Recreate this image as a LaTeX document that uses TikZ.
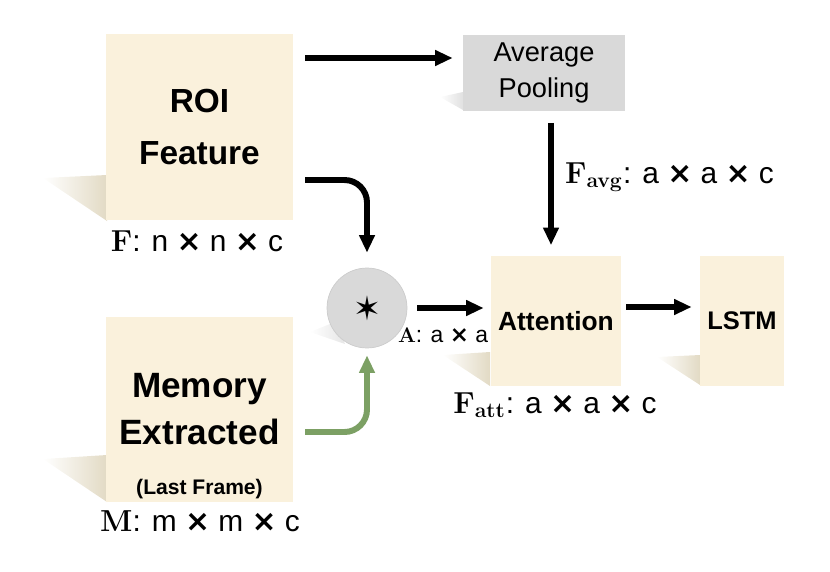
\documentclass[tikz,border=0pt]{standalone}
\usepackage[no-math]{fontspec}
\setmainfont{Liberation Sans}
\newfontfamily\symfont{DejaVu Sans}
\usetikzlibrary{arrows.meta,calc}

\definecolor{boxtan}{RGB}{250,241,220}
\definecolor{shadowtan}{RGB}{226,218,196}
\definecolor{poolgray}{RGB}{217,217,217}
\definecolor{memgreen}{RGB}{124,160,100}

\newcommand{\tms}{{\symfont\bfseries ×}}

\begin{document}
\begin{tikzpicture}[
    x=0.02cm, y=-0.02cm,
    arr/.style={-{Triangle[length=10pt, width=8.5pt]}, line width=3.4pt, draw=black},
    garr/.style={arr, draw=memgreen},
    featbox/.style={draw=none, fill=boxtan, minimum width=3.74cm,
        minimum height=3.72cm, align=center, font=\bfseries\fontsize{19}{29.5}\selectfont},
    poolbox/.style={draw=none, fill=poolgray, minimum width=3.24cm,
        minimum height=1.54cm, align=center, font=\fontsize{15.5}{21}\selectfont},
    smallbox/.style={draw=none, fill=boxtan, minimum height=2.62cm,
        align=center, font=\bfseries\fontsize{15}{18}\selectfont},
    opcircle/.style={circle, draw=black!20, fill=poolgray, minimum size=1.6cm},
    dimlabel/.style={font=\fontsize{17}{20}\selectfont, inner sep=1pt},
    shadowfill/.style={left color=white, right color=shadowtan}
]
\useasboundingbox (0,0) rectangle (830,571);

%------------------------------------------------
% stiny
%------------------------------------------------
\shade[shadowfill] (107,175) -- (43,178) -- (107,221) -- cycle;
\shade[shadowfill] (107,455) -- (43,459) -- (107,502) -- cycle;
\shade[shadowfill] (490,352) -- (443,355) -- (490,386) -- cycle;
\shade[shadowfill] (700,355) -- (657,357) -- (700,385) -- cycle;
\shade[left color=white, right color=black!12] (463,92) -- (440,97) -- (463,110) -- cycle;
\shade[left color=white, right color=black!10] (335,322) -- (310,332) -- (345,344) -- cycle;

%------------------------------------------------
% bloky
%------------------------------------------------
\node[featbox] (roi) at (199.5,127) {ROI\\Feature};

\node[featbox] (mem) at (199.5,409.5) {};
\node[font=\bfseries\fontsize{20}{27}\selectfont, align=center] (memtext)
    at (199.5,409) {Memory\\Extracted};
\node[font=\bfseries\fontsize{12}{14}\selectfont] (memsub) at (199.5,489) {(Last Frame)};

\node[poolbox] (pool) at (544,73) {Average\\Pooling};

\node[opcircle] (star) at (367,308) {\symfont\fontsize{19}{19}\selectfont ✶};

\node[smallbox, minimum width=2.6cm] (att) at (556,321) {Attention};
\node[smallbox, minimum width=1.68cm, font=\bfseries\fontsize{14.5}{17}\selectfont]
    (lstm) at (742,321) {LSTM};

%------------------------------------------------
% sipky
%------------------------------------------------
\coordinate (roitop) at (305,58);
\coordinate (roiout) at (305,180);
\coordinate (memout) at (305,432);

\draw[arr, shorten >=0.2cm] (roitop) -- (roitop -| pool.west);
\draw[arr, rounded corners=0.45cm, shorten >=0.3cm] (roiout) -| (star.north);
\draw[garr, rounded corners=0.45cm, shorten >=0.14cm] (memout) -| (star.south);

\draw[arr, shorten <=0.2cm, shorten >=0.14cm] (star.east) -- (star.east -| att.west);
\draw[arr, shorten <=0.1cm, shorten >=0.16cm] ($(att.east)+(0,-14)$) -- ($(lstm.west)+(0,-14)$);
\draw[arr, shorten <=0.22cm, shorten >=0.2cm] ($(pool.south)+(7,0)$) -- ($(att.north)+(-5,0)$);

%------------------------------------------------
% rozmery
%------------------------------------------------
\node[dimlabel] (flab) at (197,241) {$\mathbf{F}$: n \tms{} n \tms{} c};
\node[dimlabel] (mlab) at (200,521) {$\mathbf{M}$: m \tms{} m \tms{} c};
\node[dimlabel, anchor=west] (avglab) at (563,177)
    {$\mathbf{F}_{\mathbf{avg}}$: a \tms{} a \tms{} c};
\node[dimlabel, font=\fontsize{13}{16}\selectfont] (alab) at (443,335)
    {$\mathbf{A}$: a \tms{} a};
\node[dimlabel] (attlab) at (555,405) {$\mathbf{F}_{\mathbf{att}}$: a \tms{} a \tms{} c};

\end{tikzpicture}
\end{document}
